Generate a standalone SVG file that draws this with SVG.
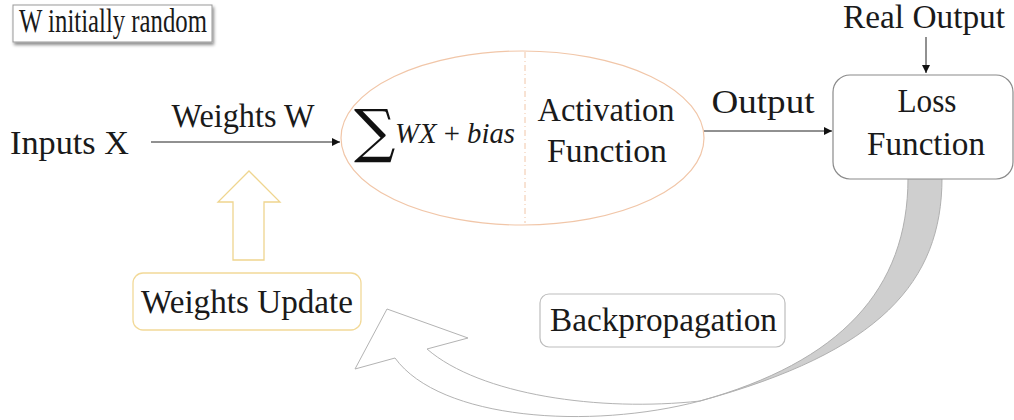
<svg xmlns="http://www.w3.org/2000/svg" width="1014" height="420" viewBox="0 0 1014 420">
<defs>
<style>
.t{font-family:"Liberation Serif","Times New Roman",serif;fill:#1a1a1a;font-size:33px}
.m{font-family:"Liberation Serif","Times New Roman",serif;fill:#1a1a1a;font-size:30px}
.i{font-style:italic}
.ln{stroke:#222;stroke-width:1;fill:none}
</style>
<marker id="ah" viewBox="0 0 10 10" refX="10" refY="5" markerWidth="8" markerHeight="8" markerUnits="userSpaceOnUse" orient="auto">
<path d="M0,0 L10,5 L0,10 z" fill="#111"/>
</marker>
<filter id="sh" x="-10%" y="-20%" width="130%" height="160%">
<feDropShadow dx="1.5" dy="2.5" stdDeviation="1.5" flood-color="#000" flood-opacity="0.45"/>
</filter>
</defs>
<rect width="1014" height="420" fill="#fff"/>

<g id="connectors">
<line class="ln" x1="151" y1="142" x2="340" y2="142" marker-end="url(#ah)"/>
<line class="ln" x1="704" y1="131" x2="832" y2="131" marker-end="url(#ah)"/>
<line class="ln" x1="926" y1="37" x2="926" y2="73" marker-end="url(#ah)"/>
<text class="t" x="243" y="127" font-size="30" text-anchor="middle" textLength="143" lengthAdjust="spacingAndGlyphs">Weights W</text>
<text class="t" x="763" y="113" text-anchor="middle" textLength="103" lengthAdjust="spacingAndGlyphs">Output</text>
<path id="update-arrow" d="M249,171 L280,202 L264,202 L264,260 L233,260 L233,202 L218,202 Z" fill="#fff" stroke="#efd58f" stroke-width="1.3"/>
<path id="back-band" d="M908,178 C908,290 840,362 700,401 C880,352 942,282 942,178 Z" fill="#cfcfcf" stroke="#b0b0b0" stroke-width="1"/>
<path id="back-arrow" d="M700,401 C600,412 480,395 427,349 L468,338 L387,309 L355,369 L395,358 C440,420 590,430 700,401 Z" fill="#fff" stroke="#b3b3b3" stroke-width="1"/>
</g>

<g id="note">
<rect x="13" y="5" width="199" height="37" fill="#fff" stroke="#999" stroke-width="1" filter="url(#sh)"/>
<text class="t" x="19" y="32" font-size="24" textLength="188" lengthAdjust="spacingAndGlyphs">W initially random</text>
</g>

<g id="inputs">
<text class="t" x="10" y="154" textLength="119" lengthAdjust="spacingAndGlyphs">Inputs X</text>
</g>

<g id="neuron">
<ellipse cx="522.5" cy="138" rx="181.5" ry="87" fill="#fff" stroke="#f1c6a8" stroke-width="1.2"/>
<line x1="525" y1="52" x2="525" y2="223" stroke="#f1c6a8" stroke-width="1" stroke-dasharray="6,3,1,3"/>
<text x="354" y="151" font-family="'DejaVu Serif',serif" font-size="58" fill="#111">∑</text>
<text class="m" x="395" y="143" textLength="120" lengthAdjust="spacingAndGlyphs"><tspan class="i">WX</tspan> + <tspan class="i">bias</tspan></text>
<text class="t" x="606" y="121" text-anchor="middle" textLength="137" lengthAdjust="spacingAndGlyphs">Activation</text>
<text class="t" x="607" y="162" text-anchor="middle" textLength="120" lengthAdjust="spacingAndGlyphs">Function</text>
</g>

<g id="real-output">
<text class="t" x="924" y="28" text-anchor="middle" textLength="162" lengthAdjust="spacingAndGlyphs">Real Output</text>
</g>

<g id="loss">
<rect x="833" y="75" width="180" height="104" rx="17" fill="#fff" stroke="#8a8a8a" stroke-width="1.2"/>
<text class="t" x="927" y="112" text-anchor="middle" textLength="59" lengthAdjust="spacingAndGlyphs">Loss</text>
<text class="t" x="926" y="155" text-anchor="middle" textLength="118" lengthAdjust="spacingAndGlyphs">Function</text>
</g>

<g id="weights-update">
<rect x="133" y="273" width="228" height="57" rx="10" fill="#fff" stroke="#f2d998" stroke-width="1.3"/>
<text class="t" x="141" y="313" textLength="212" lengthAdjust="spacingAndGlyphs">Weights Update</text>
</g>

<g id="backpropagation">
<rect x="540" y="294" width="245" height="53" rx="9" fill="#fff" stroke="#bdbdbd" stroke-width="1.2"/>
<text class="t" x="550" y="331" textLength="227" lengthAdjust="spacingAndGlyphs">Backpropagation</text>
</g>
</svg>
